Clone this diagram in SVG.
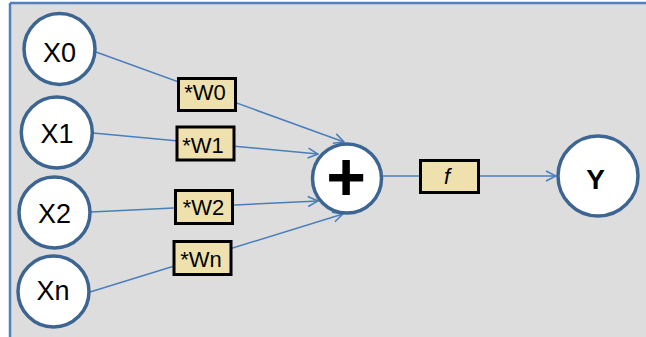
<svg xmlns="http://www.w3.org/2000/svg" width="646" height="337" viewBox="0 0 646 337">
<defs>
<style>
.node circle{fill:#fff;stroke:#3D6592;stroke-width:3.5}
.lbl{font-family:"Liberation Sans",Arial,sans-serif;font-size:27px;fill:#000;text-anchor:middle}
.w rect{fill:#EEE1AE;stroke:#000;stroke-width:3}
.w text{font-family:"Liberation Sans",Arial,sans-serif;font-size:22px;fill:#000;text-anchor:middle}
.conn line{stroke:#4A7EBB;stroke-width:1.5;fill:none}
</style>
<marker id="arr" viewBox="0 0 12 12" refX="11" refY="6" markerWidth="12" markerHeight="12" markerUnits="userSpaceOnUse" orient="auto">
<path d="M1,1 L11,6 L1,11" fill="none" stroke="#4A7EBB" stroke-width="1.5"/>
</marker>
</defs>
<rect x="0" y="0" width="646" height="337" fill="#fff"/>
<rect x="10" y="3" width="636" height="334" fill="#DDDDDD"/>
<g id="frame" stroke="#4F81BD" stroke-width="2.5" fill="none">
<line x1="10" y1="3" x2="646" y2="3"/>
<line x1="10" y1="3" x2="10" y2="337"/>
</g>
<g id="connectors" class="conn">
<line x1="96" y1="52" x2="344" y2="142" marker-end="url(#arr)"/>
<line x1="93" y1="133" x2="318" y2="154" marker-end="url(#arr)"/>
<line x1="91" y1="212" x2="318" y2="201" marker-end="url(#arr)"/>
<line x1="90" y1="292" x2="343" y2="214" marker-end="url(#arr)"/>
<line x1="383" y1="176" x2="556" y2="176" marker-end="url(#arr)"/>
</g>
<g id="x0" class="node"><circle cx="59.5" cy="49" r="35.5"/><text class="lbl" x="59.5" y="62">X0</text></g>
<g id="x1" class="node"><circle cx="56.8" cy="132.5" r="35.5"/><text class="lbl" x="57" y="143">X1</text></g>
<g id="x2" class="node"><circle cx="54.5" cy="212.5" r="35.5"/><text class="lbl" x="54.5" y="223">X2</text></g>
<g id="xn" class="node"><circle cx="53.5" cy="291.5" r="35.5"/><text class="lbl" x="53" y="300">Xn</text></g>
<g id="w0" class="w"><rect x="178.5" y="78.5" width="57" height="32"/><text x="205" y="100">*W0</text></g>
<g id="w1" class="w"><rect x="177" y="127" width="57" height="33"/><text x="203" y="153">*W1</text></g>
<g id="w2" class="w"><rect x="175.5" y="190.5" width="57" height="33"/><text x="203.5" y="215">*W2</text></g>
<g id="wn" class="w"><rect x="174" y="241.5" width="57" height="33"/><text x="201" y="267">*Wn</text></g>
<g id="sum" class="node"><circle cx="347" cy="178.5" r="34.5"/><text x="346" y="200" font-family="'Liberation Sans',Arial,sans-serif" font-size="68" font-weight="bold" text-anchor="middle">+</text></g>
<g id="f" class="w"><rect x="420.5" y="160.5" width="58" height="32"/><text x="447" y="184" font-family="'Liberation Serif','Times New Roman',serif" font-style="italic" font-size="24">f</text></g>
<g id="y" class="node"><circle cx="598" cy="176" r="40"/><text x="595.5" y="189" font-family="'Liberation Sans',Arial,sans-serif" font-size="28" font-weight="bold" text-anchor="middle">Y</text></g>
</svg>
